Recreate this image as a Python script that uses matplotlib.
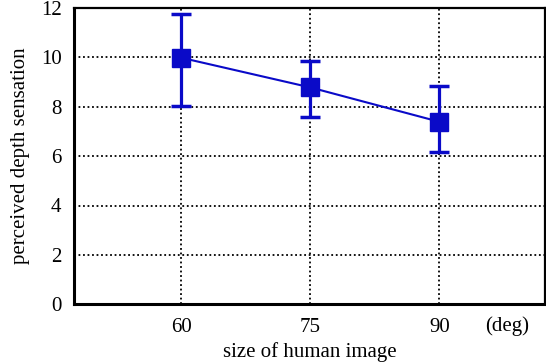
import matplotlib
matplotlib.use("Agg")
import matplotlib.pyplot as plt

sizes = [60, 75, 90]
means = [9.98, 8.78, 7.39]
err_upper = [11.76, 9.87, 8.85]
err_lower = [8.03, 7.57, 6.17]
yticks = [0, 2, 4, 6, 8, 10, 12]

plt.rcParams['font.family'] = ['Liberation Serif', 'DejaVu Serif']
fig = plt.figure(figsize=(5.46, 3.64), dpi=100)
ax = fig.add_axes([74/546, 1-304.3/364, (545-74)/546, (304.3-7.9)/364])

yerr = [[m - l for m, l in zip(means, err_lower)], [u - m for m, u in zip(means, err_upper)]]
color = '#0a0ac8'
ax.errorbar(sizes, means, yerr=yerr, color=color, marker='s', markersize=13,
            linewidth=1.5, elinewidth=2.3, capsize=7.5, capthick=2.5, zorder=3)

ax.set_xlim(47.5, 102.3)
ax.set_ylim(0, 12)
ax.set_xticks(sizes)
ax.set_yticks(yticks)
ax.grid(True, color='black', linestyle=(0, (1, 1.5)), linewidth=1.3)
fs = 15
ax.tick_params(length=0, labelsize=fs)
ax.tick_params(axis='x', pad=10)
ax.tick_params(axis='y', pad=9)
for s in ['left', 'bottom']:
    ax.spines[s].set_linewidth(2.2)
for s in ['top', 'right']:
    ax.spines[s].set_linewidth(1.6)

ax.set_xlabel('size of human image', fontsize=fs)
ax.xaxis.set_label_coords(0.5, -(352 - 304.3) / (304.3 - 7.9))
ax.xaxis.label.set_va('center')
ax.set_ylabel('perceived depth sensation', fontsize=fs)
ax.yaxis.set_label_coords(-(74 - 21) / (545 - 74), 0.5)
ax.yaxis.label.set_va('center')
fig.text(507/546, 1-326/364, '(deg)', fontsize=fs, ha='center', va='center')

fig.savefig('out.png', dpi=100)
